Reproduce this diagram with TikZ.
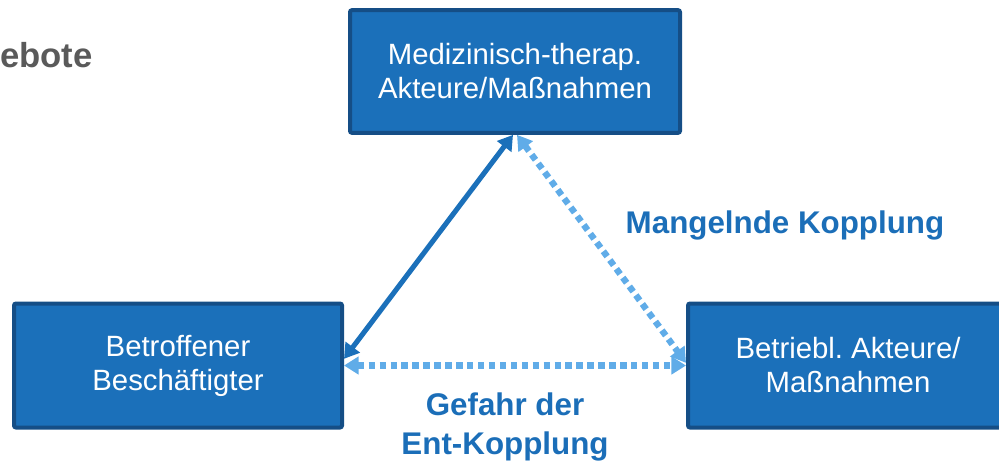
\documentclass[tikz,border=0pt]{standalone}
\usepackage{fontspec}
\setmainfont{Liberation Sans}
\usetikzlibrary{arrows.meta}
\frenchspacing
\definecolor{boxfill}{RGB}{27,112,186}
\definecolor{boxline}{RGB}{21,78,134}
\definecolor{lblue}{RGB}{96,172,232}
\definecolor{labblue}{RGB}{27,110,184}
\definecolor{greytxt}{RGB}{90,90,90}
\tikzset{
  actor/.style={draw=boxline, fill=boxfill, line width=3pt, rounded corners=1.5pt,
    text=white, font=\fontsize{22}{25.5}\selectfont, align=center, inner sep=0pt},
  solidarrow/.style={draw=boxfill, line width=3.8pt,
    {Triangle[width=13pt,length=11pt]}-{Triangle[width=13pt,length=11pt]}},
  dotarrow/.style={draw=lblue, line width=4.8pt, dash pattern=on 4.8pt off 3.4pt,
    {Triangle[width=13pt,length=11pt]}-{Triangle[width=13pt,length=11pt]}},
  lab/.style={text=labblue, font=\bfseries\fontsize{23.5}{29.5}\selectfont, align=center}
}
\begin{document}
\begin{tikzpicture}[x=0.75pt,y=-0.75pt]
\useasboundingbox (0,0) rectangle (999,462);
\clip (0,0) rectangle (999,462);
\node[text=greytxt, font=\bfseries\fontsize{26}{28}\selectfont, anchor=base east, inner sep=0pt] (head) at (93,67) {ebote};
\node[actor, minimum width=247.5pt, minimum height=92pt] (T) at (515,71.5) {Medizinisch-therap.\\Akteure/Maßnahmen};
\node[actor, minimum width=246pt, minimum height=93pt] (L) at (178,365.5) {Betroffener\\Beschäftigter};
\node[actor, minimum width=240pt, minimum height=93pt, anchor=west] (R) at (686,365.5) {Betriebl. Akteure/\\Maßnahmen};
\coordinate (Lt) at ([yshift=5pt]L.east);
\coordinate (Tl) at ([xshift=-1.5pt]T.south);
\coordinate (Tr) at ([xshift=1.5pt]T.south);
\coordinate (Rt) at ([yshift=2pt]R.west);
\draw[solidarrow] (Lt) -- (Tl);
\draw[dotarrow] (Tr) -- (Rt);
\draw[dotarrow] (L.east) -- (R.west);
\node[lab] (m) at (785,225) {Mangelnde Kopplung};
\node[lab] (g) at (505,427) {Gefahr der\\Ent-Kopplung};
\end{tikzpicture}
\end{document}
